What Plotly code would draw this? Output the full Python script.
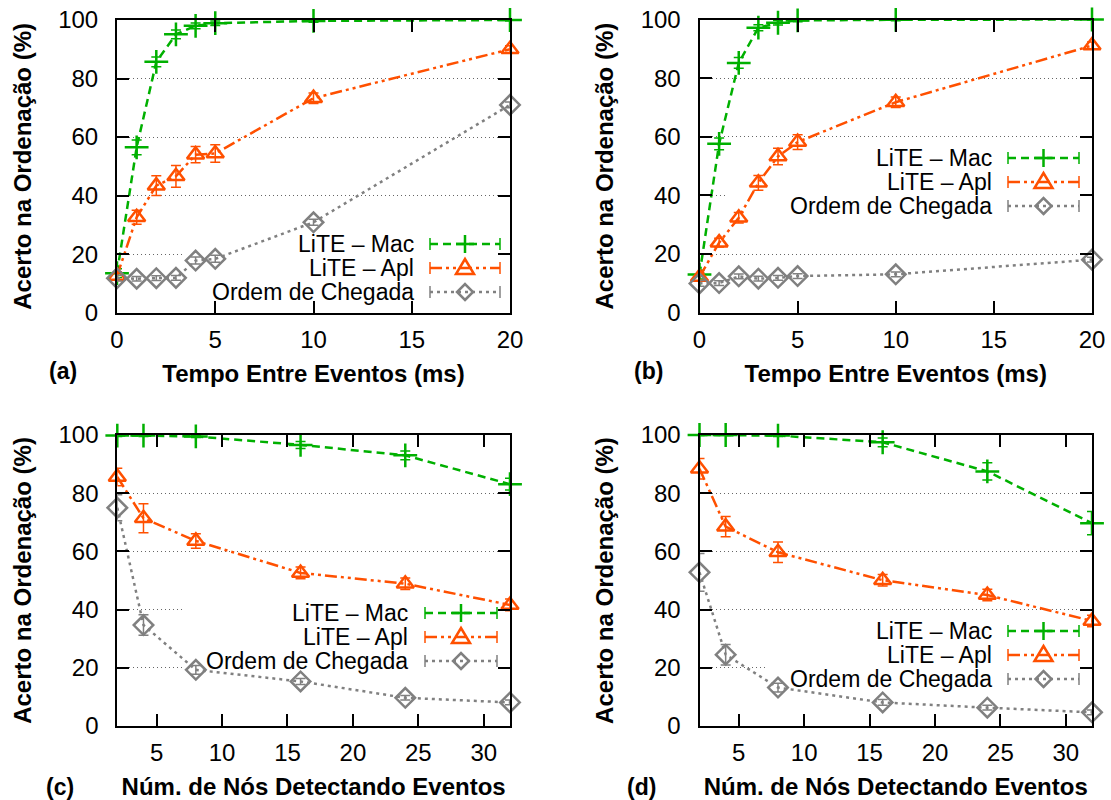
import plotly.graph_objects as go

# ---------------- data ----------------
x_tempo = [0, 1, 2, 3, 4, 5, 10, 20]
x_nos = [2, 4, 8, 16, 24, 32]

series_names = ["LiTE – Mac", "LiTE – Apl", "Ordem de Chegada"]

a_mac = [13.5, 56.5, 85.7, 95.1, 98.0, 98.9, 99.7, 100.0]
a_apl = [12.5, 32.6, 43.4, 46.6, 54.0, 54.4, 73.3, 90.0]
a_ord = [11.8, 11.6, 11.8, 11.9, 17.8, 18.4, 30.9, 71.0]
a_mac_err = [1.5, 2.5, 1.7, 1.5, 1.0, 0.8, 0.5, 0.3]
a_apl_err = [1.5, 2.4, 3.4, 3.7, 2.8, 3.0, 1.8, 1.2]
a_ord_err = [1.0, 0.8, 0.8, 0.8, 1.2, 1.2, 1.0, 1.0]

b_mac = [13.0, 57.6, 85.2, 97.2, 98.9, 99.7, 99.9, 100.0]
b_apl = [12.2, 23.9, 32.4, 44.3, 53.3, 58.2, 71.8, 91.1]
b_ord = [10.0, 10.1, 12.4, 11.6, 11.9, 12.5, 13.1, 18.1]
b_mac_err = [1.5, 2.0, 1.8, 1.0, 0.8, 0.5, 0.3, 0.2]
b_apl_err = [1.5, 1.5, 1.8, 2.5, 2.8, 2.5, 1.8, 1.2]
b_ord_err = [1.0, 0.8, 0.8, 0.8, 0.8, 0.8, 0.8, 0.8]

c_mac = [99.8, 99.8, 99.5, 96.6, 93.0, 83.1]
c_apl = [85.6, 71.4, 63.6, 52.6, 48.9, 41.6]
c_ord = [75.0, 34.7, 19.3, 15.3, 9.7, 8.1]
c_mac_err = [0.3, 0.3, 0.4, 1.2, 1.5, 2.0]
c_apl_err = [3.0, 5.0, 2.5, 2.0, 2.0, 2.0]
c_ord_err = [4.5, 3.5, 1.5, 1.0, 0.8, 0.8]

d_mac = [100.0, 100.0, 99.8, 97.5, 87.5, 69.7]
d_apl = [88.4, 68.5, 59.7, 50.1, 45.0, 36.1]
d_ord = [52.8, 24.5, 13.2, 8.1, 6.3, 4.7]
d_mac_err = [0.2, 0.2, 0.3, 1.5, 3.0, 4.0]
d_apl_err = [3.5, 3.5, 3.5, 2.0, 2.0, 2.0]
d_ord_err = [6.5, 3.5, 1.5, 1.0, 0.8, 0.8]

panel_labels = ["(a)", "(b)", "(c)", "(d)"]
x_title_tempo = "Tempo Entre Eventos (ms)"
x_title_nos = "Núm. de Nós Detectando Eventos"
y_title = "Acerto na Ordenação (%)"

# ---------------- styles ----------------
W, H = 1111, 800
FONT = "Liberation Sans"
FS = 24
GREEN = "#00B000"
ORANGE = "#FF5000"
GRAY = "#808080"

styles = [
    dict(color=GREEN, dash="8px,5px", symbol="cross-thin-open",
         key="M-9,0 L9,0 M0,-9 L0,9"),
    dict(color=ORANGE, dash="12px,4px,3px,4px,3px,4px", symbol="triangle-up-open",
         key="M-9,-6 L9,-6 L0,9 Z"),
    dict(color=GRAY, dash="3px,4px", symbol="diamond-open",
         key="M0,-8 L8,0 L0,8 L-8,0 Z"),
]

# panel boxes in pixels: (left, right, top, bottom)
boxes = [
    (117, 510, 20, 312.7),
    (699.5, 1092, 19.5, 312.7),
    (117.3, 510, 435, 726),
    (699.5, 1092, 435, 726),
]

# custom key layout in pixels
keys = [
    dict(tr=416, kl=430, kr=500, rows=[244, 268, 292], box=(185, 505, 232, 304)),
    dict(tr=994, kl=1008, kr=1079, rows=[158, 182, 206], box=(726, 1085, 146, 218)),
    dict(tr=410, kl=425, kr=497, rows=[613, 637, 661], box=(185, 501, 600, 674)),
    dict(tr=994, kl=1008, kr=1079, rows=[631, 655, 679], box=(765, 1085, 619, 691)),
]

label_pos = [(63, 371), (648, 371), (60, 787), (641, 787)]

panels = [
    (x_tempo, [a_mac, a_apl, a_ord], [a_mac_err, a_apl_err, a_ord_err], [0, 20], [0, 5, 10, 15, 20], x_title_tempo),
    (x_tempo, [b_mac, b_apl, b_ord], [b_mac_err, b_apl_err, b_ord_err], [0, 20], [0, 5, 10, 15, 20], x_title_tempo),
    (x_nos, [c_mac, c_apl, c_ord], [c_mac_err, c_apl_err, c_ord_err], [2, 32], [5, 10, 15, 20, 25, 30], x_title_nos),
    (x_nos, [d_mac, d_apl, d_ord], [d_mac_err, d_apl_err, d_ord_err], [2, 32], [5, 10, 15, 20, 25, 30], x_title_nos),
]


def px(x):
    return x / W


def py(y):
    return 1 - y / H


fig = go.Figure()
annotations = []
shapes = []
layout = dict(
    width=W, height=H,
    margin=dict(l=0, r=0, t=0, b=0, autoexpand=False),
    paper_bgcolor="white", plot_bgcolor="white",
    font=dict(family=FONT, size=FS, color="black"),
    showlegend=False,
)

for i, (xs, ys_list, errs, xr, xticks, xtitle) in enumerate(panels):
    n = i + 1
    xa = "x" if n == 1 else f"x{n}"
    ya = "y" if n == 1 else f"y{n}"
    for j, (ys, er) in enumerate(zip(ys_list, errs)):
        st = styles[j]
        fig.add_trace(go.Scatter(
            x=xs, y=ys, name=series_names[j],
            xaxis=xa, yaxis=ya,
            mode="lines+markers", cliponaxis=False,
            line=dict(color=st["color"], width=2.5, dash=st["dash"]),
            marker=dict(symbol=st["symbol"], size=15 if j != 0 else 17,
                        color=st["color"], line=dict(color=st["color"], width=2.5)),
            error_y=dict(type="data", array=er, visible=True,
                         color=st["color"], thickness=1.5, width=5),
        ))
    l, r, t, b = boxes[i]
    sfx = "" if n == 1 else str(n)
    layout[f"xaxis{sfx}"] = dict(
        domain=[px(l), px(r)], anchor=ya, range=xr, automargin=False,
        tickvals=xticks, ticks="inside", ticklen=12, tickwidth=2, tickcolor="black",
        showline=True, linewidth=2, linecolor="black", mirror="allticks",
        showgrid=False, zeroline=False, ticklabeloverflow="allow",
        tickfont=dict(family=FONT, size=FS), ticklabelstandoff=4,
        title=dict(text=xtitle, font=dict(family=FONT, size=FS, weight="bold"), standoff=14),
    )
    layout[f"yaxis{sfx}"] = dict(
        domain=[py(b), py(t)], anchor=xa, range=[0, 100], automargin=False,
        tickvals=[0, 20, 40, 60, 80, 100], ticks="inside", ticklen=12, tickwidth=2, tickcolor="black",
        showline=True, linewidth=2, linecolor="black", mirror="allticks",
        showgrid=True, gridcolor="#666666", griddash="1px,3px", gridwidth=1.2,
        zeroline=False, ticklabeloverflow="allow",
        tickfont=dict(family=FONT, size=FS), ticklabelstandoff=12,
        title=dict(text=y_title, font=dict(family=FONT, size=FS, weight="bold"), standoff=20),
    )

    # key box: white, above the grid lines but under the data
    k = keys[i]
    bx0, bx1, by0, by1 = k["box"]

    def to_x(p):
        return xr[0] + (p - l) / (r - l) * (xr[1] - xr[0])

    def to_y(p):
        return (b - p) / (b - t) * 100.0

    shapes.append(dict(
        type="rect", xref=xa, yref=ya, layer="between",
        x0=to_x(bx0), x1=to_x(bx1), y0=to_y(by1), y1=to_y(by0),
        fillcolor="white", line=dict(width=0),
    ))
    for j, ry in enumerate(k["rows"]):
        st = styles[j]
        annotations.append(dict(
            text=series_names[j], xref="paper", yref="paper",
            x=px(k["tr"]), y=py(ry), xanchor="right", yanchor="middle",
            showarrow=False, font=dict(family=FONT, size=FS - 1),
        ))
        shapes.append(dict(
            type="line", xref="paper", yref="paper",
            x0=px(k["kl"]), x1=px(k["kr"]), y0=py(ry), y1=py(ry),
            line=dict(color=st["color"], width=2.5, dash=st["dash"]),
        ))
        for ex in (k["kl"], k["kr"]):
            shapes.append(dict(
                type="line", xref="paper", yref="paper",
                x0=px(ex), x1=px(ex), y0=py(ry - 6), y1=py(ry + 6),
                line=dict(color=st["color"], width=1.5),
            ))
        shapes.append(dict(
            type="path", xref="paper", yref="paper",
            xsizemode="pixel", ysizemode="pixel",
            xanchor=px((k["kl"] + k["kr"]) / 2), yanchor=py(ry),
            path=st["key"], line=dict(color=st["color"], width=2.5),
            fillcolor="rgba(0,0,0,0)",
        ))

    lx, ly = label_pos[i]
    annotations.append(dict(
        text=panel_labels[i], xref="paper", yref="paper",
        x=px(lx), y=py(ly), xanchor="center", yanchor="middle",
        showarrow=False, font=dict(family=FONT, size=FS - 1, weight="bold"),
    ))

layout["annotations"] = annotations
layout["shapes"] = shapes
fig.update_layout(**layout)
fig.write_html("out.html", config={"displayModeBar": False},
               post_script="document.body.style.margin='0px';")
